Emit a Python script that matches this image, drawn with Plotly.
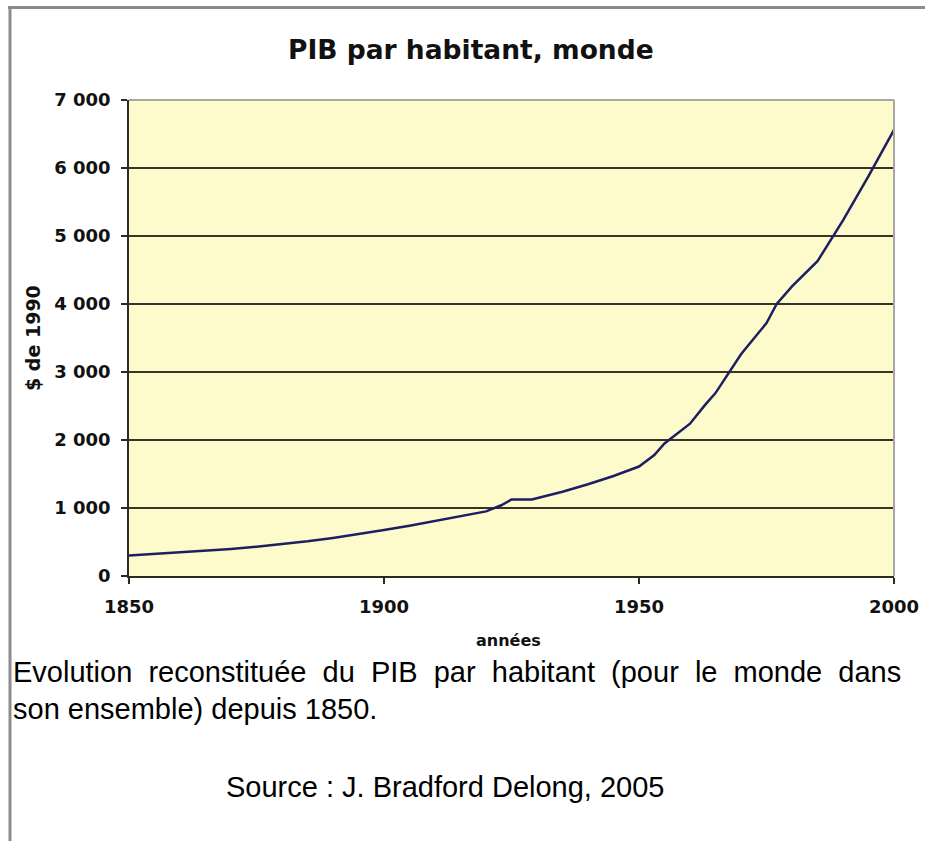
import plotly.graph_objects as go

# ---- data ----
years = [1850, 1855, 1860, 1865, 1870, 1875, 1880, 1885, 1890, 1895, 1900, 1905,
         1910, 1913, 1916, 1920, 1923, 1925, 1929, 1935, 1940, 1945, 1950, 1953,
         1955, 1960, 1963, 1965, 1970, 1975, 1977, 1980, 1985, 1990, 1995, 2000]
gdp_per_capita = [300, 322, 345, 370, 398, 430, 465, 510, 560, 615, 676, 740,
                  810, 850, 885, 950, 1040, 1125, 1125, 1240, 1350, 1470, 1610, 1780,
                  1950, 2240, 2520, 2690, 3260, 3720, 4000, 4260, 4630, 5230, 5880, 6560]
x_ticks = [1850, 1900, 1950, 2000]
y_ticks = [0, 1000, 2000, 3000, 4000, 5000, 6000, 7000]

title_text = "PIB par habitant, monde"
y_title = "$ de 1990"
x_title = "années"
caption_line1 = "Evolution\u00a0 reconstituée\u00a0 du\u00a0 PIB\u00a0 par\u00a0 habitant\u00a0 (pour\u00a0 le\u00a0 monde\u00a0 dans"
caption_line2 = "son ensemble) depuis 1850."
source_text = "Source : J. Bradford Delong, 2005"

W, H = 925, 841
L, R, T, B = 129, 31, 100, 265
PW, PH = W - L - R, H - T - B


def px2x(px):
    return (px - L) / PW


def px2y(py):
    return (H - B - py) / PH


fig = go.Figure()
fig.add_trace(go.Scatter(
    x=years, y=gdp_per_capita, mode="lines",
    line=dict(color="#1e1e62", width=2.5),
    showlegend=False, hoverinfo="x+y",
))

bold_font = dict(family="DejaVu Sans", size=18, color="#111111", weight="bold")

fig.update_layout(
    width=W, height=H, autosize=False,
    margin=dict(l=L, r=R, t=T, b=B, pad=0, autoexpand=False),
    paper_bgcolor="white",
    plot_bgcolor="#fdfbcb",
    separators=", ",
    showlegend=False,
    xaxis=dict(
        range=[1850, 2000], tickvals=x_ticks, showgrid=False, zeroline=False,
        showline=True, linecolor="#2b2b20", linewidth=1.5, automargin=False,
        ticks="outside", ticklen=6, tickwidth=1.5, tickcolor="#2b2b20",
        ticklabelstandoff=8, tickfont=bold_font,
    ),
    yaxis=dict(
        range=[0, 7000], tickvals=y_ticks, tickformat=",d",
        showgrid=True, gridcolor="#35352a", gridwidth=1.5, zeroline=False,
        showline=True, linecolor="#2b2b20", linewidth=1.5, automargin=False,
        ticks="outside", ticklen=6, tickwidth=1.5, tickcolor="#2b2b20",
        ticklabelstandoff=7, tickfont=bold_font,
    ),
)

shapes = [
    # light frame on top and right of plot area
    dict(type="line", xref="paper", yref="paper", x0=0, x1=1, y0=1, y1=1,
         line=dict(color="#a8a8a0", width=2), layer="above"),
    dict(type="line", xref="paper", yref="paper", x0=1, x1=1, y0=0, y1=1,
         line=dict(color="#a8a8a0", width=2), layer="above"),
    # page frame: top and left gray borders
    dict(type="line", xref="paper", yref="paper", x0=px2x(8), x1=px2x(925), y0=px2y(7.5), y1=px2y(7.5),
         line=dict(color="#8c8c8c", width=3)),
    dict(type="line", xref="paper", yref="paper", x0=px2x(10), x1=px2x(10), y0=px2y(6), y1=px2y(841),
         line=dict(color="#8c8c8c", width=3)),
]
fig.update_layout(shapes=shapes)

annotations = [
    dict(text="<b>" + title_text + "</b>", x=px2x(470.5), y=px2y(50), xref="paper", yref="paper",
         xanchor="center", yanchor="middle", showarrow=False,
         font=dict(family="DejaVu Sans", size=26.5, color="#111111")),
    dict(text="<b>" + y_title + "</b>", x=px2x(33), y=px2y(338), xref="paper", yref="paper",
         xanchor="center", yanchor="middle", showarrow=False, textangle=-90,
         font=dict(family="DejaVu Sans", size=19, color="#111111")),
    dict(text="<b>" + x_title + "</b>", x=px2x(508), y=px2y(640), xref="paper", yref="paper",
         xanchor="center", yanchor="middle", showarrow=False,
         font=dict(family="DejaVu Sans", size=16, color="#111111")),
    dict(text=caption_line1, x=px2x(11), y=px2y(672), xref="paper", yref="paper",
         xanchor="left", yanchor="middle", showarrow=False,
         font=dict(family="Liberation Sans", size=29, color="#000000")),
    dict(text=caption_line2, x=px2x(11), y=px2y(709), xref="paper", yref="paper",
         xanchor="left", yanchor="middle", showarrow=False,
         font=dict(family="Liberation Sans", size=29, color="#000000")),
    dict(text=source_text, x=px2x(445), y=px2y(787), xref="paper", yref="paper",
         xanchor="center", yanchor="middle", showarrow=False,
         font=dict(family="Liberation Sans", size=29, color="#000000")),
]
fig.update_layout(annotations=annotations)

fig.write_html("out.html", config={"displayModeBar": False},
               post_script="document.body.style.margin='0';document.body.style.overflow='hidden';")
